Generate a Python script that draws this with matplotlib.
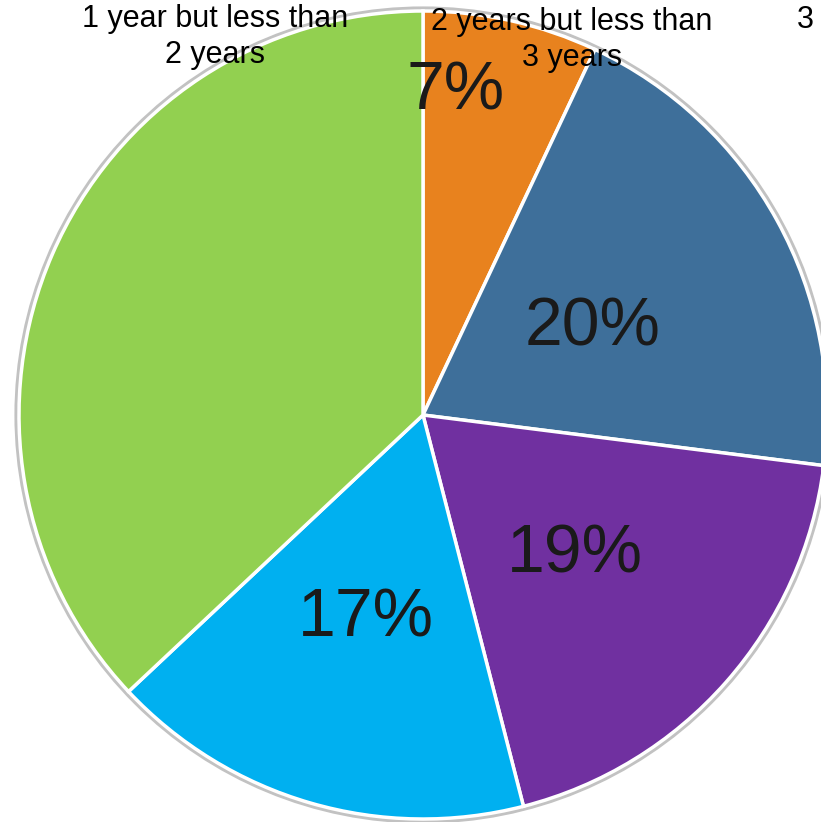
import numpy as np
import matplotlib.pyplot as plt
from matplotlib.patches import Circle

plt.rcParams['font.family'] = ['Liberation Sans', 'DejaVu Sans']

# Share of respondents by time bracket (clockwise from 12 o'clock)
categories = ["2 years but less than 3 years", "3 years but less than 4 years",
              "4 years but less than 5 years", "5 years or more",
              "1 year but less than 2 years"]
values = [7, 20, 19, 17, 37]
colors = ["#E8821E", "#3E6F9A", "#7030A0", "#00B0F0", "#92D050"]
show_pct = [True, True, True, True, False]
# radial position of each percentage label, as a fraction of the radius
label_r = [0.82, 0.48, 0.50, 0.51, 0.5]
label_dang = [7.0, 0.0, 0.0, 0.0, 0.0]

W, H = 821, 822
fig = plt.figure(figsize=(W / 100, H / 100), dpi=100)
ax = fig.add_axes([0, 0, 1, 1])

cx, cy, R = 423, H - 415, 404

ax.add_patch(Circle((cx, cy), R + 2.5, facecolor="none", edgecolor="#c2c2c2",
                    linewidth=3, zorder=0))
wedges, _ = ax.pie(values, colors=colors, startangle=90, counterclock=False,
                   center=(cx, cy), radius=R,
                   wedgeprops=dict(edgecolor="white", linewidth=2.5))

total = float(sum(values))
start = 90.0
for v, show, rf, da in zip(values, show_pct, label_r, label_dang):
    span = 360.0 * v / total
    mid = np.deg2rad(start - span / 2 + da)
    start -= span
    if not show:
        continue
    x = cx + rf * R * np.cos(mid)
    y = cy + rf * R * np.sin(mid) - 6
    ax.text(x, y, f"{v}%", ha="center", va="center", fontsize=49,
            color="#1a1a1a", zorder=5)

# Legend-style captions across the top edge
ax.text(215, H - 37, "1 year but less than\n2 years", ha="center", va="center",
        fontsize=22, color="black", linespacing=1.25, zorder=6)
ax.text(572, H - 40, "2 years but less than\n3 years", ha="center", va="center",
        fontsize=22, color="black", linespacing=1.3, zorder=6)
ax.text(805, H - 20, "3", ha="center", va="center", fontsize=22,
        color="black", zorder=6)

ax.set_xlim(0, W)
ax.set_ylim(0, H)
ax.set_aspect("auto")
ax.axis("off")

fig.savefig("out.png", dpi=100, facecolor="white")
